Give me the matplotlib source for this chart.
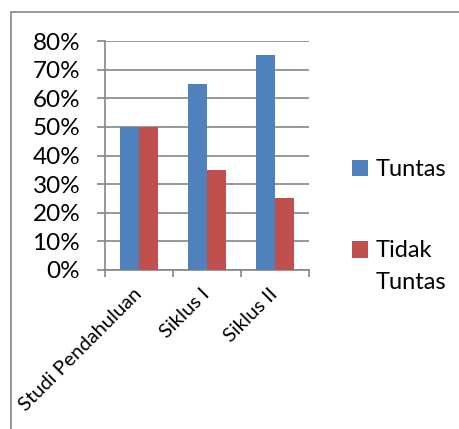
import matplotlib.pyplot as plt
from matplotlib.patches import Rectangle
from matplotlib.legend_handler import HandlerPatch
from matplotlib.ticker import PercentFormatter
import matplotlib.transforms as mtransforms
import numpy as np

categories = ['Studi Pendahuluan', 'Siklus I', 'Siklus II']
tuntas = [50, 65, 75]
tidak_tuntas = [50, 35, 25]
series_labels = ['Tuntas', 'Tidak\nTuntas']
y_ticks = [0, 10, 20, 30, 40, 50, 60, 70, 80]

blue = '#4f81bd'
red = '#c0504d'
grid_col = '#868686'

plt.rcParams['font.family'] = ['Lato', 'DejaVu Sans']

W, H = 460, 429
fig = plt.figure(figsize=(W / 100, H / 100), dpi=100)

# outer chart border (runs off the right/bottom edge like the source)
fig.patches.append(Rectangle((11 / W, 0 - 0.05), 1.2, 1 - 12 / H + 0.05,
                             transform=fig.transFigure, fill=False,
                             edgecolor='#868686', linewidth=1.2))

ax = fig.add_axes([105 / W, 1 - 270 / H, (309 - 105) / W, (270 - 41) / H])
x = np.arange(len(categories))
w = 0.28
b1 = ax.bar(x - w / 2, tuntas, w, color=blue, zorder=3)
b2 = ax.bar(x + w / 2, tidak_tuntas, w, color=red, zorder=3)

ax.set_xlim(-0.5, len(categories) - 0.5)
ax.set_ylim(0, 80)
ax.set_yticks(y_ticks)
ax.yaxis.set_major_formatter(PercentFormatter(decimals=0))
ax.grid(axis='y', color=grid_col, linewidth=1.2, zorder=0)
for s in ['top', 'right']:
    ax.spines[s].set_visible(False)
for s in ['left', 'bottom']:
    ax.spines[s].set_color(grid_col)
    ax.spines[s].set_linewidth(1.2)

ax.set_xticks(np.arange(-0.5, len(categories), 1.0))
ax.set_xticklabels([])
ax.set_xticks(x, minor=True)
ax.set_xticklabels(categories, minor=True, rotation=45, ha='right', va='center',
                   rotation_mode='anchor', fontsize=14.5)
shift = mtransforms.ScaledTranslation(2 / 100, 0, fig.dpi_scale_trans)
for lbl in ax.get_xticklabels(minor=True):
    lbl.set_transform(lbl.get_transform() + shift)
ax.tick_params(axis='x', which='minor', length=0, pad=15.5)
ax.tick_params(axis='x', which='major', length=5, color=grid_col, width=1.2)
ax.tick_params(axis='y', length=5.8, color=grid_col, width=1.2, labelsize=17.5, pad=12)

handles = [b1.patches[0], b2.patches[0]]


# legend patch lifted so it sits beside the first line of a wrapped label
def make_patch(legend, orig_handle, xdescent, ydescent, width, height, fontsize):
    lift = 12.5 if orig_handle is handles[1] else 0
    return Rectangle((-xdescent, -ydescent + lift), width, height)


leg = fig.legend(handles, series_labels, loc='upper left',
                 bbox_to_anchor=(331 / W, 1 - 138 / H),
                 frameon=False, fontsize=17, handlelength=0.68, handleheight=0.68,
                 handletextpad=0.3, labelspacing=2.55,
                 handler_map={Rectangle: HandlerPatch(patch_func=make_patch)})
leg.get_texts()[1].set_linespacing(1.6)

fig.savefig('out.png', dpi=100)
